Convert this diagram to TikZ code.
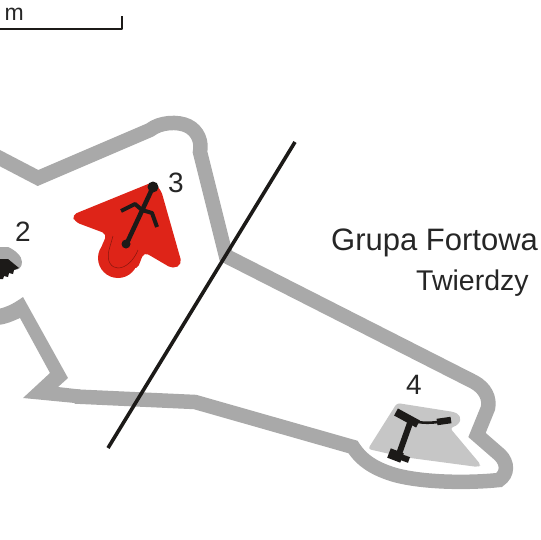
\documentclass[tikz,border=0pt]{standalone}
\usepackage{fontspec}
\setmainfont{Liberation Sans}
\definecolor{wallgray}{HTML}{A9A9A9}
\definecolor{fortgray}{HTML}{C6C6C6}
\definecolor{fortred}{HTML}{DE2418}
\definecolor{inkdark}{HTML}{1C1A18}
\tikzset{
  wall/.style={draw=wallgray,line width=14.5pt,line join=miter,miter limit=10},
  ink/.style={draw=inkdark,line cap=butt,line join=round},
  lab/.style={font=\fontsize{28}{30}\selectfont,text=black!85,inner sep=0pt,anchor=base west},
}
\begin{document}
\begin{tikzpicture}[x=1pt,y=-1pt]
\useasboundingbox (0,0) rectangle (540,540);
\begin{scope}
\clip (0,0) rectangle (540,540);
% scale bar
\draw[ink,line width=2pt] (0,29) -- (122,29) -- (122,16);
% wall
\path[wall] (-8,154) -- (38,178) -- (150,130)
  .. controls (160,122) and (178,121) .. (188,126)
  .. controls (198,131) and (202,142) .. (200,152)
  -- (226,256) -- (474,382)
  .. controls (485,388) and (490,398) .. (488,408)
  -- (477,435) -- (500,455)
  .. controls (508,463) and (508,474) .. (499,480)
  .. controls (470,483) and (425,483) .. (395,475)
  .. controls (375,469) and (362,461) .. (353,447)
  -- (195,402) -- (75,396.5);
\fill[wallgray] (80,403.5) -- (23,398) -- (50,373) -- (20,318)
  .. controls (13,321) and (7,324) .. (-2,325) -- (-2,309)
  .. controls (8,307) and (16,302) .. (23,297)
  -- (68,378) -- (58,387) -- (80,389.5) -- cycle;
% diagonal
\draw[ink,line width=3.6pt] (295,142) -- (108,448);
% fort 2
\fill[fortgray!85!black] (-5,247) -- (8,247) .. controls (15,250) and (22,256) .. (22,262)
  .. controls (22,268) and (18,270) .. (14,270) -- (-5,272) -- cycle;
\fill[inkdark] (-5,259) -- (8,259) -- (19,268) -- (14,270) -- (13,274) -- (9,273) -- (8,277) -- (4,276) -- (3,279) -- (-5,279) -- cycle;
% fort 3
\fill[fortred] (118,258) circle (20pt);
\fill[fortred,rounded corners=5pt] (153,182) -- (72,215) -- (75,222) -- (107,234)
  -- (100,250) -- (137,270) -- (144,252)
  -- (173,269) -- (182,264) -- (161,190) -- cycle;
\draw[fortred!60!black,line width=.5pt] (113,236) -- (109,250) .. controls (106,262) and (112,268) .. (118,268)
  .. controls (126,268) and (134,260) .. (138,250);
\draw[ink,line width=4.6pt] (153,187) -- (126,245);
\fill[inkdark] (153,187) circle (5.5pt);
\fill[inkdark] (126,244) circle (4.5pt);
\draw[ink,line width=4pt] (121,211) -- (135,204) -- (142,210) -- (152,213) -- (157,227);
% fort 4
\fill[fortgray,rounded corners=3pt] (397,403) -- (454,412)
  .. controls (462,416) and (462,424) .. (450,428)
  -- (481,465) -- (478,467) -- (403,457) -- (368,449) -- cycle;
\draw[ink,line width=8pt] (396,412) -- (418,424);
\draw[ink,line width=6pt] (410,423) -- (399,454);
\draw[ink,line width=10pt] (389,453) -- (402,458);
\draw[ink,line width=6pt] (398,456) -- (409,460);
\draw[ink,line width=2.6pt] (418,422) .. controls (424,423) and (430,423) .. (438,422);
\draw[ink,line width=6.5pt] (437,422) -- (451,420);
\end{scope}
% labels
\node[lab,font=\fontsize{23}{25}\selectfont] (unit) at (4.5,21) {m};
\node[lab] (n2) at (15,241) {2};
\node[lab] (n3) at (168,192) {3};
\node[lab] (n4) at (406,394) {4};
\begin{scope}
\clip (0,0) rectangle (540,540);
\node[lab,font=\fontsize{31}{33}\selectfont] (t1) at (331,250) {Grupa Fortowa};
\node[lab,font=\fontsize{28.5}{30}\selectfont] (t2) at (416,290) {Twierdzy};
\end{scope}
\end{tikzpicture}
\end{document}
